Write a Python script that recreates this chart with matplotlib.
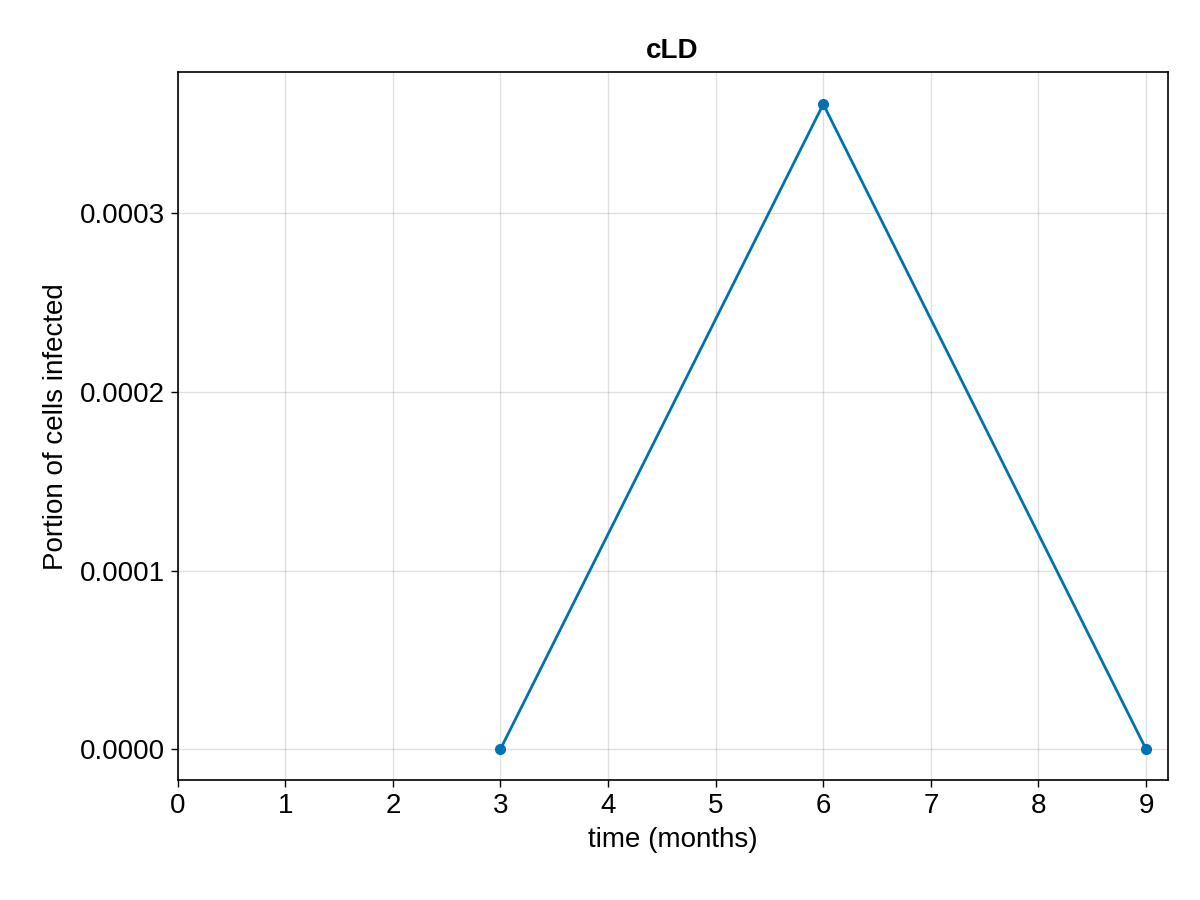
import matplotlib
matplotlib.use("Agg")
import matplotlib.pyplot as plt

plt.rcParams['font.family'] = ['Liberation Sans', 'DejaVu Sans']

# data
months = [3, 6, 9]
infected = [0.0, 0.000361, 0.0]

fig = plt.figure(figsize=(12, 9), dpi=100)
ax = fig.add_axes([0.148, 0.133, 0.825, 0.787])

ax.plot(months, infected, color='#0072b2', lw=2, marker='o', ms=7)

ax.set_xlim(0, 9.2)
ax.set_ylim(-0.0000174, 0.000379)
ax.set_xticks(range(0, 10))
ax.set_yticks([0, 0.0001, 0.0002, 0.0003])
ax.set_yticklabels(['0.0000', '0.0001', '0.0002', '0.0003'])
ax.grid(True, color='black', alpha=0.12, lw=1)
ax.set_axisbelow(True)
ax.tick_params(labelsize=20, length=5, width=1, pad=4)
for s in ax.spines.values():
    s.set_linewidth(1.2)

ax.set_xlabel('time (months)', fontsize=20, labelpad=6)
ax.set_ylabel('Portion of cells infected', fontsize=20, labelpad=8)
ax.set_title('cLD', fontsize=20, fontweight='bold', pad=10)

fig.savefig('out.png')
